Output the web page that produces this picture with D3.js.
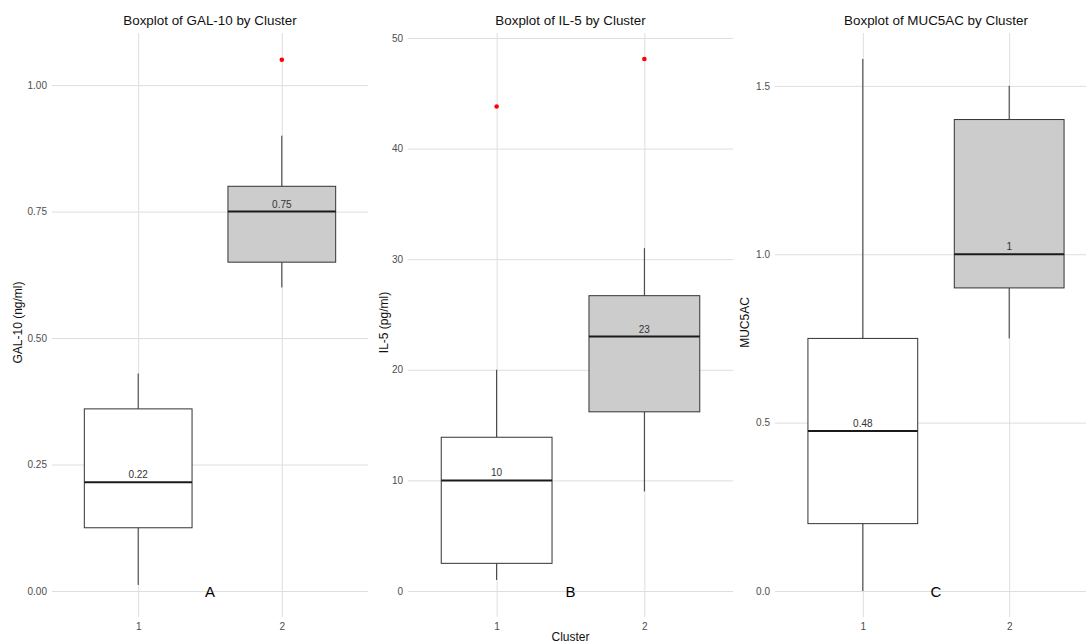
<!DOCTYPE html>
<html>
<head>
<meta charset="utf-8">
<script src="https://cdn.jsdelivr.net/npm/d3@7"></script>
<style>
  body { margin: 0; background: #fff; }
  text { font-family: "Liberation Sans", Arial, sans-serif; }
</style>
</head>
<body>
<div id="chart"></div>
<script>
//data
var clusters = ["1", "2"];
var boxFills = ["#ffffff", "#cccccc"];

var gal10Min = [0.012, 0.60];
var gal10Q1 = [0.125, 0.65];
var gal10Median = [0.215, 0.75];
var gal10Q3 = [0.36, 0.80];
var gal10Max = [0.43, 0.90];
var gal10Outliers = [[], [1.05]];
var gal10Labels = ["0.22", "0.75"];
var gal10Ticks = [0, 0.25, 0.5, 0.75, 1.0];

var il5Min = [1.0, 9.0];
var il5Q1 = [2.5, 16.2];
var il5Median = [10, 23];
var il5Q3 = [13.9, 26.7];
var il5Max = [20, 31];
var il5Outliers = [[43.8], [48.1]];
var il5Labels = ["10", "23"];
var il5Ticks = [0, 10, 20, 30, 40, 50];

var mucMin = [0.0, 0.75];
var mucQ1 = [0.2, 0.9];
var mucMedian = [0.475, 1.0];
var mucQ3 = [0.75, 1.4];
var mucMax = [1.58, 1.5];
var mucOutliers = [[], []];
var mucLabels = ["0.48", "1"];
var mucTicks = [0, 0.5, 1.0, 1.5];

var panels = [
  {title: "Boxplot of GAL-10 by Cluster", ylab: "GAL-10 (ng/ml)", letter: "A",
   min: gal10Min, q1: gal10Q1, med: gal10Median, q3: gal10Q3, max: gal10Max,
   out: gal10Outliers, labels: gal10Labels, ticks: gal10Ticks, fmt: d3.format(".2f"),
   domain: [-0.0415, 1.103], left: 52, right: 368, ylabX: 18, xlab: ""},
  {title: "Boxplot of IL-5 by Cluster", ylab: "IL-5 (pg/ml)", letter: "B",
   min: il5Min, q1: il5Q1, med: il5Median, q3: il5Q3, max: il5Max,
   out: il5Outliers, labels: il5Labels, ticks: il5Ticks, fmt: d3.format("d"),
   domain: [-1.9, 50.45], left: 408, right: 733, ylabX: 384, xlab: "Cluster"},
  {title: "Boxplot of MUC5AC by Cluster", ylab: "MUC5AC", letter: "C",
   min: mucMin, q1: mucQ1, med: mucMedian, q3: mucQ3, max: mucMax,
   out: mucOutliers, labels: mucLabels, ticks: mucTicks, fmt: d3.format(".1f"),
   domain: [-0.0624, 1.657], left: 775, right: 1097, ylabX: 745, xlab: ""}
];

var W = 1086, H = 644, panelTop = 33, panelBottom = 612;

var svg = d3.select("#chart").append("svg")
    .attr("width", W)
    .attr("height", H);

panels.forEach(function(p) {
  var x = d3.scalePoint().domain(clusters).range([p.left, p.right]).padding(0.6);
  var y = d3.scaleLinear().domain(p.domain).range([panelBottom, panelTop]);
  var bw = x.step() * 0.75;
  var g = svg.append("g");

  //gridlines + tick labels
  var yAxis = g.append("g")
      .attr("transform", "translate(" + p.left + ",0)")
      .call(d3.axisLeft(y).tickValues(p.ticks).tickFormat(p.fmt)
        .tickSize(-(p.right - p.left)).tickPadding(5));
  yAxis.select(".domain").remove();
  yAxis.selectAll("line").attr("stroke", "#dedede");
  yAxis.selectAll("text").attr("fill", "#4d4d4d").attr("font-size", 10)
      .attr("font-family", "Liberation Sans, Arial, sans-serif");

  var xAxis = g.append("g")
      .attr("transform", "translate(0," + panelBottom + ")")
      .call(d3.axisBottom(x).tickSize(-(panelBottom - panelTop)).tickPadding(11));
  xAxis.select(".domain").remove();
  xAxis.selectAll("line").attr("stroke", "#dedede").attr("y1", 5);
  xAxis.selectAll("text").attr("fill", "#4d4d4d").attr("font-size", 10)
      .attr("font-family", "Liberation Sans, Arial, sans-serif");

  clusters.forEach(function(c, i) {
    var cx = x(c);
    //whiskers
    g.append("line")
        .attr("x1", cx).attr("x2", cx)
        .attr("y1", y(p.q3[i])).attr("y2", y(p.max[i]))
        .attr("stroke", "#333").attr("stroke-width", 1);
    g.append("line")
        .attr("x1", cx).attr("x2", cx)
        .attr("y1", y(p.q1[i])).attr("y2", y(p.min[i]))
        .attr("stroke", "#333").attr("stroke-width", 1);
    g.append("rect")
        .attr("x", cx - bw / 2).attr("width", bw)
        .attr("y", y(p.q3[i])).attr("height", y(p.q1[i]) - y(p.q3[i]))
        .attr("fill", boxFills[i]).attr("stroke", "#333").attr("stroke-width", 1);
    g.append("line")
        .attr("x1", cx - bw / 2).attr("x2", cx + bw / 2)
        .attr("y1", y(p.med[i])).attr("y2", y(p.med[i]))
        .attr("stroke", "#1a1a1a").attr("stroke-width", 2);
    g.append("text")
        .attr("x", cx).attr("y", y(p.med[i]) - 4)
        .attr("text-anchor", "middle").attr("font-size", 10).attr("fill", "#333")
        .text(p.labels[i]);
    g.selectAll(null).data(p.out[i]).enter().append("circle")
        .attr("cx", cx).attr("cy", function(d) { return y(d); })
        .attr("r", 2.3).attr("fill", "red");
  });

  //titles
  var mid = (p.left + p.right) / 2;
  g.append("text").attr("x", mid).attr("y", 25)
      .attr("text-anchor", "middle").attr("font-size", 13.4).attr("fill", "#111")
      .text(p.title);
  g.append("text")
      .attr("transform", "translate(" + (p.ylabX + 4) + "," + ((panelTop + panelBottom) / 2) + ") rotate(-90)")
      .attr("text-anchor", "middle").attr("font-size", 12).attr("fill", "#111")
      .text(p.ylab);
  if (p.xlab) {
    g.append("text").attr("x", mid).attr("y", 641)
        .attr("text-anchor", "middle").attr("font-size", 12).attr("fill", "#111")
        .text(p.xlab);
  }
  g.append("text").attr("x", (x("1") + x("2")) / 2).attr("y", y(0) + 6)
      .attr("text-anchor", "middle").attr("font-size", 15).attr("fill", "#000")
      .text(p.letter);
});
</script>
</body>
</html>
